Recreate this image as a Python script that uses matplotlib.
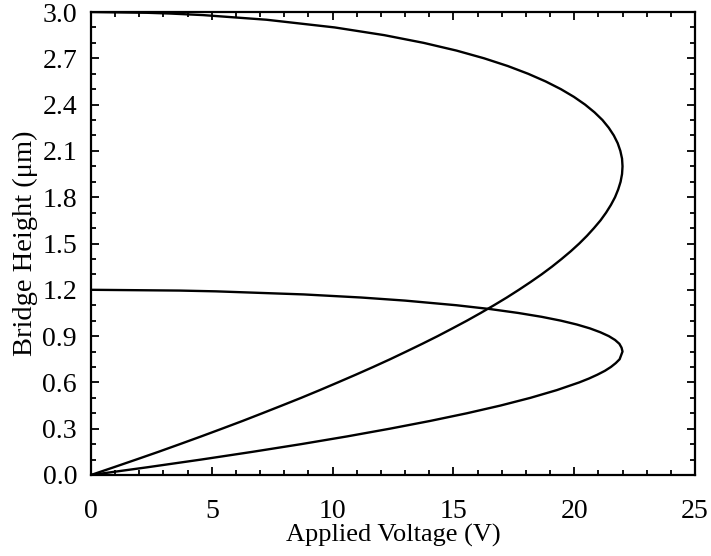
import matplotlib
matplotlib.use("Agg")
import matplotlib.pyplot as plt
from matplotlib.ticker import MultipleLocator

# Curve 1 (initial gap 3.0 um): bridge height vs applied voltage
h_gap3 = [0.0, 0.05, 0.1, 0.15, 0.2, 0.25, 0.3, 0.35, 0.4, 0.45, 0.5, 0.55,
          0.6, 0.65, 0.7, 0.75, 0.8, 0.85, 0.9, 0.95, 1.0, 1.05, 1.1, 1.15,
          1.2, 1.25, 1.3, 1.35, 1.4, 1.45, 1.5, 1.55, 1.6, 1.65, 1.7, 1.75,
          1.8, 1.85, 1.9, 1.95, 2.0, 2.05, 2.1, 2.15, 2.2, 2.25, 2.3, 2.35,
          2.4, 2.45, 2.5, 2.55, 2.6, 2.65, 2.7, 2.75, 2.8, 2.85, 2.9, 2.95,
          2.98, 2.99, 2.995, 3.0]
v_gap3 = [0.0, 0.94, 1.87, 2.79, 3.68, 4.56, 5.42, 6.27, 7.09, 7.90, 8.70,
          9.47, 10.22, 10.96, 11.68, 12.38, 13.05, 13.71, 14.35, 14.96, 15.56,
          16.13, 16.68, 17.21, 17.71, 18.19, 18.65, 19.08, 19.48, 19.86, 20.21,
          20.53, 20.82, 21.09, 21.32, 21.52, 21.69, 21.82, 21.92, 21.98, 22.0,
          21.98, 21.91, 21.80, 21.64, 21.43, 21.17, 20.84, 20.45, 19.99, 19.45,
          18.82, 18.09, 17.25, 16.27, 15.13, 13.77, 12.14, 10.09, 7.26, 4.64,
          3.29, 2.33, 0.0]

# Curve 2 (initial gap 1.2 um)
h_gap12 = [0.0, 0.05, 0.1, 0.15, 0.2, 0.25, 0.3, 0.35, 0.4, 0.45, 0.5, 0.55,
           0.6, 0.625, 0.65, 0.675, 0.7, 0.725, 0.75, 0.775, 0.8, 0.825, 0.85,
           0.875, 0.9, 0.925, 0.95, 0.975, 1.0, 1.025, 1.05, 1.075, 1.1, 1.13,
           1.15, 1.17, 1.19, 1.195, 1.2]
v_gap12 = [0.0, 2.33, 4.56, 6.68, 8.70, 10.60, 12.37, 14.03, 15.56, 16.95,
           18.19, 19.28, 20.21, 20.61, 20.96, 21.27, 21.52, 21.72, 21.88, 21.94,
           22.0, 21.96, 21.87, 21.69, 21.43, 21.08, 20.65, 20.11, 19.45, 18.65,
           17.68, 16.53, 15.12, 13.00, 11.18, 8.81, 5.17, 3.67, 0.0]

x_ticks = [0, 5, 10, 15, 20, 25]
y_ticks = [0.0, 0.3, 0.6, 0.9, 1.2, 1.5, 1.8, 2.1, 2.4, 2.7, 3.0]

plt.rcParams['font.family'] = ['Liberation Serif', 'DejaVu Serif']

fig = plt.figure(figsize=(7.11, 5.56), dpi=100)
ax = fig.add_axes([0.128, 0.1457, 0.8495, 0.8327])

ax.plot(v_gap3, h_gap3, color='black', lw=1.7)
ax.plot(v_gap12, h_gap12, color='black', lw=1.7)

ax.set_xlim(0, 25)
ax.set_ylim(0, 3.0)
ax.set_xticks(x_ticks)
ax.set_yticks(y_ticks)
ax.set_xticklabels([str(t) for t in x_ticks])
ax.set_yticklabels([f"{t:.1f}" for t in y_ticks])
ax.xaxis.set_minor_locator(MultipleLocator(1))
ax.yaxis.set_minor_locator(MultipleLocator(0.1))

ax.tick_params(which='both', direction='in', top=True, right=True, width=1.3,
               colors='black')
ax.tick_params(which='major', length=6, labelsize=20)
ax.tick_params(which='minor', length=3.5)
ax.tick_params(axis='x', which='major', pad=17)
ax.tick_params(axis='y', which='major', pad=10)

for s in ax.spines.values():
    s.set_linewidth(1.6)

ax.set_xlabel("Applied Voltage (V)", fontsize=19, labelpad=0)
ax.set_ylabel("Bridge Height (\u03bcm)", fontsize=20.5, labelpad=3)

fig.savefig("out.png", dpi=100)
